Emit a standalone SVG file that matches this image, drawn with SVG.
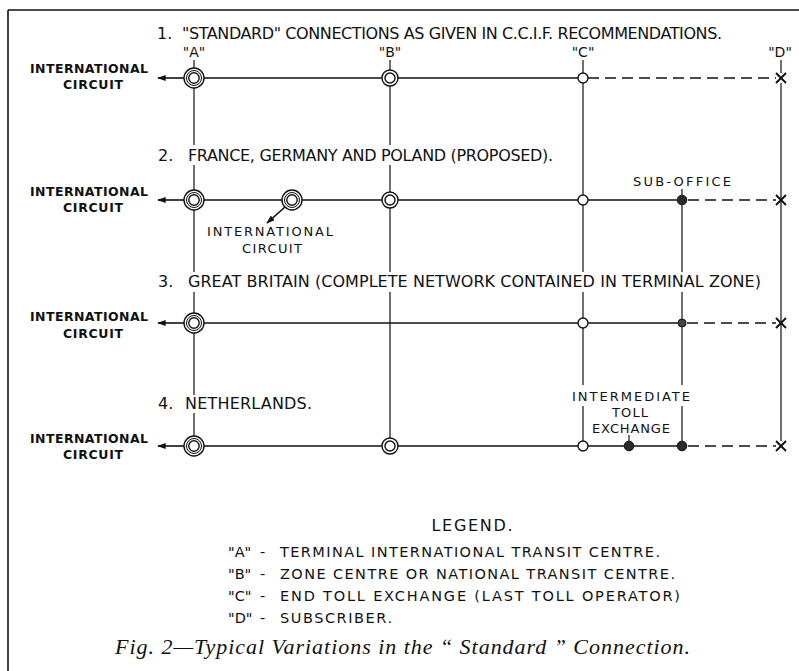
<svg xmlns="http://www.w3.org/2000/svg" width="799" height="671" viewBox="0 0 799 671">
<defs>
<style>
.t{font-family:"DejaVu Sans","Liberation Sans",sans-serif;fill:#111}
.title{font-size:16px}
.lab{font-size:12.5px;font-weight:bold}
.key{font-size:14px}
.nl{font-size:13px}
.leg{font-size:14.5px}
.cap{font-family:"Liberation Serif","Times New Roman",serif;font-style:italic;font-size:22px;fill:#111}
.ln{stroke:#111;stroke-width:1.2;fill:none}
.hl{stroke:#111;stroke-width:1.6;fill:none}
.dash{stroke:#111;stroke-width:1.6;fill:none;stroke-dasharray:11 6}
.ring{fill:#fff;stroke:#111;stroke-width:1.4}
.ringt{fill:none;stroke:#111;stroke-width:1}
.fill{fill:#2a2a2a;stroke:#111;stroke-width:1}
.x{stroke:#111;stroke-width:2}
</style>
<marker id="ah" viewBox="0 0 10 7" refX="9" refY="3.5" markerWidth="9" markerHeight="6" markerUnits="userSpaceOnUse" orient="auto">
<path d="M0,0 L10,3.5 L0,7 z" fill="#111"/>
</marker>
<g id="nA"><circle class="ring" r="10"/><circle class="ringt" r="7.5"/><circle class="ring" r="5.2"/></g>
<g id="nB"><circle class="ring" r="8"/><circle class="ring" r="5"/></g>
<g id="nC"><circle class="ring" r="5"/></g>
<g id="nF"><circle class="fill" r="4.8"/></g>
<g id="nX"><line class="x" x1="-5" y1="-5" x2="5" y2="5"/><line class="x" x1="-5" y1="5" x2="5" y2="-5"/></g>
</defs>
<rect width="799" height="671" fill="#fff"/>

<g id="frame">
<line x1="8" y1="10" x2="799" y2="10" stroke="#111" stroke-width="1.6"/>
<line x1="8" y1="10" x2="8" y2="671" stroke="#111" stroke-width="1.6"/>
</g>

<g id="connectors">
<!-- row 1 -->
<line class="hl" x1="184" y1="78" x2="158" y2="78" marker-end="url(#ah)"/>
<line class="hl" x1="204" y1="78" x2="382" y2="78"/>
<line class="hl" x1="398" y1="78" x2="578" y2="78"/>
<line class="dash" x1="588" y1="78" x2="776" y2="78"/>
<!-- row 2 -->
<line class="hl" x1="184" y1="200" x2="158" y2="200" marker-end="url(#ah)"/>
<line class="hl" x1="204" y1="200" x2="282" y2="200"/>
<line class="hl" x1="302" y1="200" x2="382" y2="200"/>
<line class="hl" x1="398" y1="200" x2="578" y2="200"/>
<line class="hl" x1="588" y1="200" x2="677" y2="200"/>
<line class="dash" x1="688" y1="200" x2="776" y2="200"/>
<line class="hl" x1="285" y1="207" x2="267" y2="223" marker-end="url(#ah)"/>
<!-- row 3 -->
<line class="hl" x1="184" y1="323" x2="158" y2="323" marker-end="url(#ah)"/>
<line class="hl" x1="204" y1="323" x2="578" y2="323"/>
<line class="hl" x1="588" y1="323" x2="678" y2="323" stroke-width="2"/>
<line class="dash" x1="687" y1="323" x2="776" y2="323"/>
<!-- row 4 -->
<line class="hl" x1="184" y1="446" x2="158" y2="446" marker-end="url(#ah)"/>
<line class="hl" x1="204" y1="446" x2="382" y2="446"/>
<line class="hl" x1="398" y1="446" x2="578" y2="446"/>
<line class="hl" x1="588" y1="446" x2="624" y2="446"/>
<line class="hl" x1="634" y1="446" x2="677" y2="446"/>
<line class="dash" x1="688" y1="446" x2="776" y2="446"/>
<!-- verticals A -->
<line class="ln" x1="194" y1="60" x2="194" y2="68"/>
<line class="ln" x1="194" y1="88" x2="194" y2="145"/>
<line class="ln" x1="194" y1="165" x2="194" y2="190"/>
<line class="ln" x1="194" y1="210" x2="194" y2="272"/>
<line class="ln" x1="194" y1="292" x2="194" y2="313"/>
<line class="ln" x1="194" y1="333" x2="194" y2="395"/>
<line class="ln" x1="194" y1="413" x2="194" y2="436"/>
<!-- verticals B -->
<line class="ln" x1="390" y1="60" x2="390" y2="70"/>
<line class="ln" x1="390" y1="86" x2="390" y2="145"/>
<line class="ln" x1="390" y1="165" x2="390" y2="192"/>
<line class="ln" x1="390" y1="208" x2="390" y2="272"/>
<line class="ln" x1="390" y1="292" x2="390" y2="438"/>
<!-- verticals C -->
<line class="ln" x1="583" y1="60" x2="583" y2="73"/>
<line class="ln" x1="583" y1="83" x2="583" y2="195"/>
<line class="ln" x1="583" y1="205" x2="583" y2="272"/>
<line class="ln" x1="583" y1="292" x2="583" y2="318"/>
<line class="ln" x1="583" y1="328" x2="583" y2="385"/>
<line class="ln" x1="583" y1="406" x2="583" y2="441"/>
<!-- verticals sub-office -->
<line class="ln" x1="682" y1="189" x2="682" y2="195"/>
<line class="ln" x1="682" y1="205" x2="682" y2="272"/>
<line class="ln" x1="682" y1="292" x2="682" y2="319"/>
<line class="ln" x1="682" y1="327" x2="682" y2="385"/>
<line class="ln" x1="682" y1="406" x2="682" y2="441"/>
<!-- verticals D -->
<line class="ln" x1="781" y1="60" x2="781" y2="73"/>
<line class="ln" x1="781" y1="83" x2="781" y2="441"/>
<!-- intermediate tick -->
<line class="ln" x1="629" y1="435" x2="629" y2="441"/>
</g>

<g id="row1-nodes">
<use id="r1A" href="#nA" x="194" y="78"/>
<use id="r1B" href="#nB" x="390" y="78"/>
<use id="r1C" href="#nC" x="583" y="78"/>
<use id="r1D" href="#nX" x="781" y="78"/>
</g>
<g id="row2-nodes">
<use id="r2A" href="#nA" x="194" y="200"/>
<use id="r2A2" href="#nA" x="292" y="200"/>
<use id="r2B" href="#nB" x="390" y="200"/>
<use id="r2C" href="#nC" x="583" y="200"/>
<use id="r2S" href="#nF" x="682" y="200"/>
<use id="r2D" href="#nX" x="781" y="200"/>
</g>
<g id="row3-nodes">
<use id="r3A" href="#nA" x="194" y="323"/>
<use id="r3C" href="#nC" x="583" y="323"/>
<g id="r3S"><circle cx="682" cy="323" r="4" fill="#444" stroke="#111" stroke-width="1"/></g>
<use id="r3D" href="#nX" x="781" y="323"/>
</g>
<g id="row4-nodes">
<use id="r4A" href="#nA" x="194" y="446"/>
<use id="r4B" href="#nB" x="390" y="446"/>
<use id="r4C" href="#nC" x="583" y="446"/>
<use id="r4I" href="#nF" x="629" y="446"/>
<use id="r4S" href="#nF" x="682" y="446"/>
<use id="r4D" href="#nX" x="781" y="446"/>
</g>

<g id="titles" class="t title">
<text x="157" y="39">1.</text>
<text x="182" y="39" textLength="540" lengthAdjust="spacing">"STANDARD" CONNECTIONS AS GIVEN IN C.C.I.F. RECOMMENDATIONS.</text>
<text x="158" y="161">2.</text>
<text x="188" y="161" textLength="365" lengthAdjust="spacing">FRANCE, GERMANY AND POLAND (PROPOSED).</text>
<text x="158" y="287">3.</text>
<text x="188" y="287" textLength="573" lengthAdjust="spacing">GREAT BRITAIN (COMPLETE NETWORK CONTAINED IN TERMINAL ZONE)</text>
<text x="158" y="409">4.</text>
<text x="185" y="409" textLength="127" lengthAdjust="spacing">NETHERLANDS.</text>
</g>

<g id="col-labels" class="t key" text-anchor="middle">
<text x="194" y="57">"A"</text>
<text x="390" y="57">"B"</text>
<text x="583" y="57">"C"</text>
<text x="780" y="57">"D"</text>
</g>

<g id="intl-labels" class="t lab" text-anchor="middle">
<text x="89" y="73" textLength="118" lengthAdjust="spacing">INTERNATIONAL</text>
<text x="93" y="89" textLength="60" lengthAdjust="spacing">CIRCUIT</text>
<text x="89" y="196" textLength="118" lengthAdjust="spacing">INTERNATIONAL</text>
<text x="93" y="212" textLength="60" lengthAdjust="spacing">CIRCUIT</text>
<text x="89" y="321" textLength="118" lengthAdjust="spacing">INTERNATIONAL</text>
<text x="93" y="338" textLength="60" lengthAdjust="spacing">CIRCUIT</text>
<text x="89" y="443" textLength="118" lengthAdjust="spacing">INTERNATIONAL</text>
<text x="93" y="459" textLength="60" lengthAdjust="spacing">CIRCUIT</text>
</g>

<g id="node-labels" class="t nl" text-anchor="middle">
<text x="270" y="236" textLength="126" lengthAdjust="spacing">INTERNATIONAL</text>
<text x="272" y="253" textLength="60" lengthAdjust="spacing">CIRCUIT</text>
<text x="682" y="186" textLength="98" lengthAdjust="spacing">SUB-OFFICE</text>
<text x="631" y="401" textLength="118" lengthAdjust="spacing">INTERMEDIATE</text>
<text x="630" y="417" textLength="36" lengthAdjust="spacing">TOLL</text>
<text x="631" y="433" textLength="78" lengthAdjust="spacing">EXCHANGE</text>
</g>

<g id="legend" class="t leg">
<text x="472" y="531" text-anchor="middle" font-size="16" textLength="81" lengthAdjust="spacing">LEGEND.</text>
<text x="228" y="557">"A"</text><text x="260" y="557">-</text>
<text x="280" y="557" textLength="380" lengthAdjust="spacing">TERMINAL INTERNATIONAL TRANSIT CENTRE.</text>
<text x="228" y="579">"B"</text><text x="260" y="579">-</text>
<text x="280" y="579" textLength="395" lengthAdjust="spacing">ZONE CENTRE OR NATIONAL TRANSIT CENTRE.</text>
<text x="228" y="601">"C"</text><text x="260" y="601">-</text>
<text x="280" y="601" textLength="400" lengthAdjust="spacing">END TOLL EXCHANGE (LAST TOLL OPERATOR)</text>
<text x="228" y="623">"D"</text><text x="260" y="623">-</text>
<text x="280" y="623" textLength="112" lengthAdjust="spacing">SUBSCRIBER.</text>
</g>

<g id="caption">
<text class="cap" x="115" y="654" textLength="575" lengthAdjust="spacing">Fig. 2—Typical Variations in the “ Standard ” Connection.</text>
</g>
</svg>
